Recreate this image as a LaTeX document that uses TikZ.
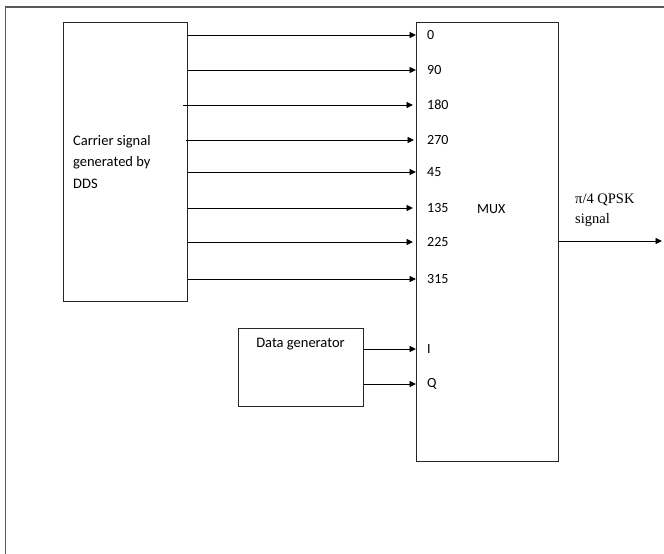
\documentclass[tikz,border=0pt]{standalone}
\usepackage{fontspec}
\setmainfont{Carlito}
\newfontfamily\tnr{Liberation Serif}
\usetikzlibrary{arrows.meta}
\begin{document}
\begin{tikzpicture}[x=1pt,y=-1pt,
  box/.style={draw=black!85, line width=1pt, anchor=north west, inner sep=0pt},
  arr/.style={draw=black, line width=0.9pt, -{Triangle[length=6.5pt,width=6pt]}},
  port/.style={anchor=west, inner sep=0pt, font=\fontsize{14pt}{16pt}\selectfont},
  every node/.style={text=black}]
\useasboundingbox (0,0) rectangle (664,554);
% frame
\draw[line width=1.3pt, black!65] (664,7) -- (5.5,7) -- (5.5,554);
% boxes
\node[box, minimum width=124pt, minimum height=279pt] (carrier) at (63,22) {};
\node[box, minimum width=142pt, minimum height=439pt] (mux) at (416,22) {};
\node[box, minimum width=125pt, minimum height=78pt] (data) at (238,328) {};
% texts
\node[anchor=west, align=left, inner sep=0pt, font=\fontsize{14.5pt}{21.5pt}\selectfont] (ctext) at (73,162) {Carrier signal\\generated by\\DDS};
\node[anchor=center, inner sep=0pt, font=\fontsize{14.5pt}{16pt}\selectfont] (dtext) at (300.5,344) {Data generator};
\node[anchor=west, inner sep=0pt, font=\fontsize{14pt}{16pt}\selectfont] (muxl) at (477,209) {MUX};
\node[anchor=west, align=left, inner sep=0pt, font=\tnr\fontsize{14.5pt}{20pt}\selectfont] (out) at (575,210) {π/4 QPSK\\signal};
% ports
\node[port] (p0) at (427,35) {0};
\node[port] (p90) at (427,70) {90};
\node[port] (p180) at (427,105) {180};
\node[port] (p270) at (427,140) {270};
\node[port] (p45) at (427,172) {45};
\node[port] (p135) at (427,208) {135};
\node[port] (p225) at (427,242) {225};
\node[port] (p315) at (427,279) {315};
\node[port] (pI) at (427,349) {I};
\node[port] (pQ) at (427,384) {Q};
% arrows
\draw[arr] (carrier.east |- p0) -- (mux.west |- p0);
\draw[arr] (carrier.east |- p90) -- (mux.west |- p90);
\draw[arr] ([xshift=-5pt]carrier.east |- p180) -- ([xshift=-3pt]mux.west |- p180);
\draw[arr] ([xshift=-2pt]carrier.east |- p270) -- ([xshift=-2pt]mux.west |- p270);
\draw[arr] (carrier.east |- p45) -- (mux.west |- p45);
\draw[arr] (carrier.east |- p135) -- ([xshift=-3pt]mux.west |- p135);
\draw[arr] (carrier.east |- p225) -- ([xshift=-3pt]mux.west |- p225);
\draw[arr] (carrier.east |- p315) -- (mux.west |- p315);
\draw[arr] (data.east |- pI) -- (mux.west |- pI);
\draw[arr] (data.east |- pQ) -- (mux.west |- pQ);
\coordinate (outend) at (662,241);
\draw[arr] (mux.east |- outend) -- (outend);
\end{tikzpicture}
\end{document}
